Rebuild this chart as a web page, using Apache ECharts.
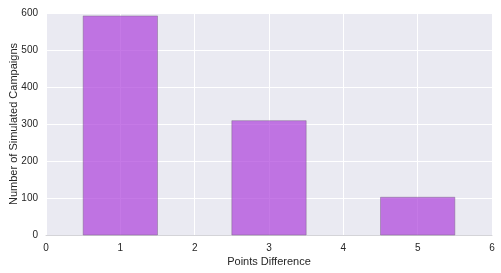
<!DOCTYPE html>
<html><head><meta charset="utf-8">
<script src="https://cdn.jsdelivr.net/npm/echarts@6/dist/echarts.min.js"></script>
<style>html,body{margin:0;padding:0;background:#fff}#c{width:501px;height:273px}</style>
</head><body><div id="c"></div>
<script>
var pointsDiff = [1, 3, 5];
var counts = [592, 309, 102];
var xTicks = [0, 1, 2, 3, 4, 5, 6];
var yTicks = [0, 100, 200, 300, 400, 500, 600];

var chart = echarts.init(document.getElementById('c'), null, {renderer: 'canvas'});
var data = pointsDiff.map(function (x, i) { return [x, counts[i]]; });
chart.setOption({
  animation: false,
  backgroundColor: '#fff',
  grid: {left: 46, right: 9, top: 13, bottom: 38, containLabel: false, outerBoundsMode: 'none',
         show: true, backgroundColor: '#EAEAF2', borderWidth: 0},
  xAxis: {
    type: 'value', min: xTicks[0], max: xTicks[xTicks.length - 1], interval: 1,
    name: 'Points Difference', nameLocation: 'middle', nameGap: 21, nameMoveOverlap: false,
    nameTextStyle: {fontFamily: 'Liberation Sans', fontSize: 11, color: '#262626'},
    axisLine: {show: true, lineStyle: {color: '#d4d4d8', width: 1}},
    axisTick: {show: false},
    axisLabel: {fontFamily: 'Liberation Sans', fontSize: 10, color: '#262626', margin: 8},
    splitLine: {show: true, lineStyle: {color: '#ffffff', width: 1}}
  },
  yAxis: {
    type: 'value', min: yTicks[0], max: yTicks[yTicks.length - 1], interval: 100,
    name: 'Number of Simulated Campaigns', nameLocation: 'middle', nameGap: 27, nameMoveOverlap: false,
    nameTextStyle: {fontFamily: 'Liberation Sans', fontSize: 11, color: '#262626'},
    axisLine: {show: false}, axisTick: {show: false},
    axisLabel: {fontFamily: 'Liberation Sans', fontSize: 10, color: '#262626', margin: 8},
    splitLine: {show: true, lineStyle: {color: '#ffffff', width: 1}}
  },
  series: [{
    type: 'custom',
    data: data,
    renderItem: function (params, api) {
      var x = api.value(0), y = api.value(1);
      var p0 = api.coord([x - 0.5, y]);
      var p1 = api.coord([x + 0.5, 0]);
      return {
        type: 'rect',
        shape: {x: p0[0], y: p0[1], width: p1[0] - p0[0], height: p1[1] - p0[1]},
        style: {fill: 'rgba(172,64,220,0.7)', stroke: 'rgba(120,100,130,0.45)', lineWidth: 1}
      };
    }
  }]
});
</script></body></html>
